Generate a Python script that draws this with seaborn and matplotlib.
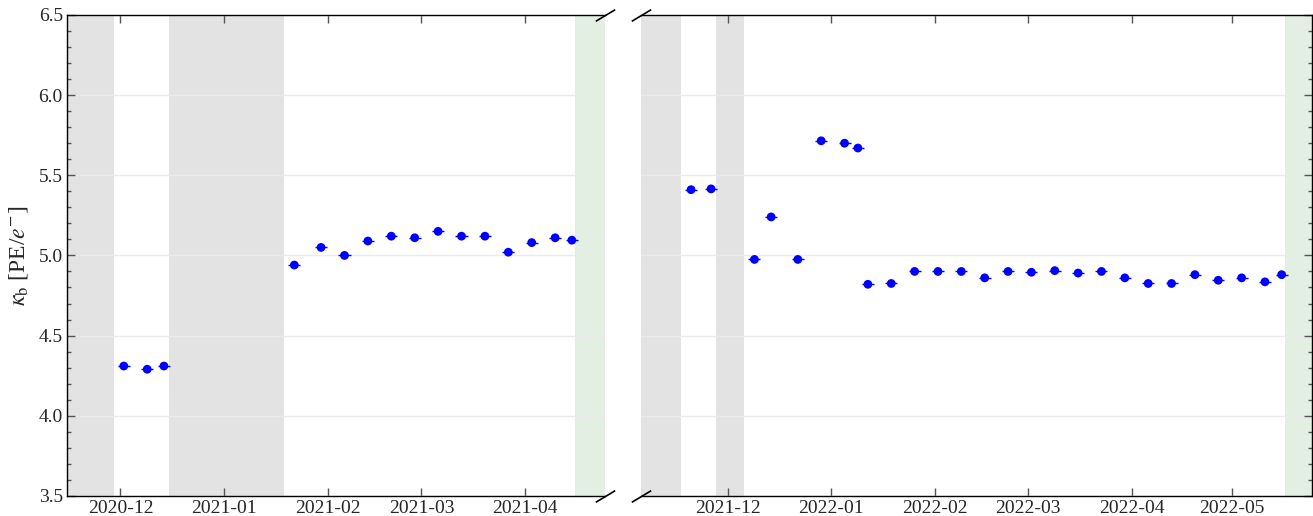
import numpy as np
import pandas as pd
import matplotlib
matplotlib.use("Agg")
import matplotlib.pyplot as plt
import matplotlib.dates as mdates
import seaborn as sns

# period 1 (2020-2021)
dates_a = ["2020-12-02", "2020-12-09", "2020-12-14",
           "2021-01-22", "2021-01-30", "2021-02-06", "2021-02-13", "2021-02-20",
           "2021-02-27", "2021-03-06", "2021-03-13", "2021-03-20", "2021-03-27",
           "2021-04-03", "2021-04-10", "2021-04-15"]
kappa_a = [4.31, 4.29, 4.31,
           4.94, 5.05, 5.00, 5.09, 5.12, 5.11, 5.15, 5.12, 5.12, 5.02,
           5.08, 5.11, 5.095]

# period 2 (2021-2022)
dates_b = ["2021-11-20", "2021-11-26", "2021-12-09", "2021-12-14", "2021-12-22",
           "2021-12-29", "2022-01-05", "2022-01-09", "2022-01-12", "2022-01-19",
           "2022-01-26", "2022-02-02", "2022-02-09", "2022-02-16", "2022-02-23",
           "2022-03-02", "2022-03-09", "2022-03-16", "2022-03-23", "2022-03-30",
           "2022-04-06", "2022-04-13", "2022-04-20", "2022-04-27", "2022-05-04",
           "2022-05-11", "2022-05-16"]
kappa_b = [5.41, 5.415, 4.975, 5.24, 4.975, 5.715, 5.70, 5.67, 4.82, 4.825,
           4.90, 4.90, 4.90, 4.86, 4.90, 4.895, 4.905, 4.89, 4.90, 4.86,
           4.825, 4.825, 4.88, 4.845, 4.86, 4.835, 4.88]
kappa_err = 0.006

xlim_a = ("2020-11-15", "2021-04-25")
xlim_b = ("2021-11-05", "2022-05-25")
grey_a = [("2020-11-15", "2020-11-29"), ("2020-12-15 12:00", "2021-01-19")]
green_a = [("2021-04-16", "2021-04-25")]
grey_b = [("2021-11-05", "2021-11-17"), ("2021-11-27 12:00", "2021-12-05 18:00")]
green_b = [("2022-05-17", "2022-05-25")]

df_a = pd.DataFrame({"date": pd.to_datetime(dates_a), "kappa": kappa_a})
df_b = pd.DataFrame({"date": pd.to_datetime(dates_b), "kappa": kappa_b})

sns.set_style("white")
plt.rcParams["font.family"] = ["Liberation Serif", "DejaVu Serif"]
plt.rcParams["mathtext.fontset"] = "stix"

fig = plt.figure(figsize=(13.13, 5.16), dpi=100)
ax1 = fig.add_axes([0.051, 0.039, 0.410, 0.932])
ax2 = fig.add_axes([0.4882, 0.039, 0.5108, 0.932], sharey=ax1)


def draw_panel(ax, df, xlim, greys, greens):
    for a, b in greys:
        ax.axvspan(pd.Timestamp(a), pd.Timestamp(b), color="#e3e3e3", lw=0, zorder=0)
    for a, b in greens:
        ax.axvspan(pd.Timestamp(a), pd.Timestamp(b), color="#e2efe2", lw=0, zorder=0)
    ax.errorbar(df["date"], df["kappa"], xerr=pd.Timedelta(days=1.8),
                yerr=kappa_err, fmt="none", ecolor="#0000ff", elinewidth=1.0, zorder=3)
    sns.scatterplot(x="date", y="kappa", data=df, ax=ax, color="#0000ff",
                    s=40, edgecolor="none", zorder=4, legend=False)
    ax.set_xlim(pd.Timestamp(xlim[0]), pd.Timestamp(xlim[1]))
    ax.set_ylim(3.5, 6.5)
    ax.set_xlabel("")
    ax.set_ylabel("")
    ax.grid(axis="y", color="#ebebeb", lw=1, zorder=1)
    ax.set_axisbelow(True)
    ax.xaxis.set_major_locator(mdates.MonthLocator())
    ax.xaxis.set_major_formatter(mdates.DateFormatter("%Y-%m"))
    ax.yaxis.set_major_locator(plt.MultipleLocator(0.5))
    ax.yaxis.set_minor_locator(plt.MultipleLocator(0.1))
    ax.tick_params(axis="x", which="major", direction="in", length=6, width=1,
                   color="#555555", top=True, bottom=True, labelsize=14, pad=3)
    for sp in ax.spines.values():
        sp.set_color("black")
        sp.set_linewidth(1.0)


draw_panel(ax1, df_a, xlim_a, grey_a, green_a)
draw_panel(ax2, df_b, xlim_b, grey_b, green_b)

ax1.yaxis.set_major_formatter(plt.FormatStrFormatter("%.1f"))
ax1.tick_params(axis="y", which="major", direction="in", length=6, width=1,
                color="#555555", left=True, right=False, labelsize=14, pad=3)
ax1.tick_params(axis="y", which="minor", direction="in", length=3, width=1,
                color="#555555", left=True, right=False)
ax1.spines["right"].set_visible(False)
ax1.set_ylabel(r"$\kappa_{\rm b}$ [PE/$e^{-}$]", fontsize=17, labelpad=6)

ax2.spines["left"].set_visible(False)
ax2.tick_params(axis="y", which="major", direction="in", length=6, width=1,
                color="#555555", left=False, right=True, labelleft=False)
ax2.tick_params(axis="y", which="minor", direction="in", length=3, width=1,
                color="#555555", left=False, right=True)

# break marks
d = 0.6
kw = dict(marker=[(-1, -d), (1, d)], markersize=14, linestyle="none",
          color="k", mec="k", mew=1.2, clip_on=False)
ax1.plot([1, 1], [0, 1], transform=ax1.transAxes, **kw)
ax2.plot([0, 0], [0, 1], transform=ax2.transAxes, **kw)

plt.savefig("out.png", dpi=100)
